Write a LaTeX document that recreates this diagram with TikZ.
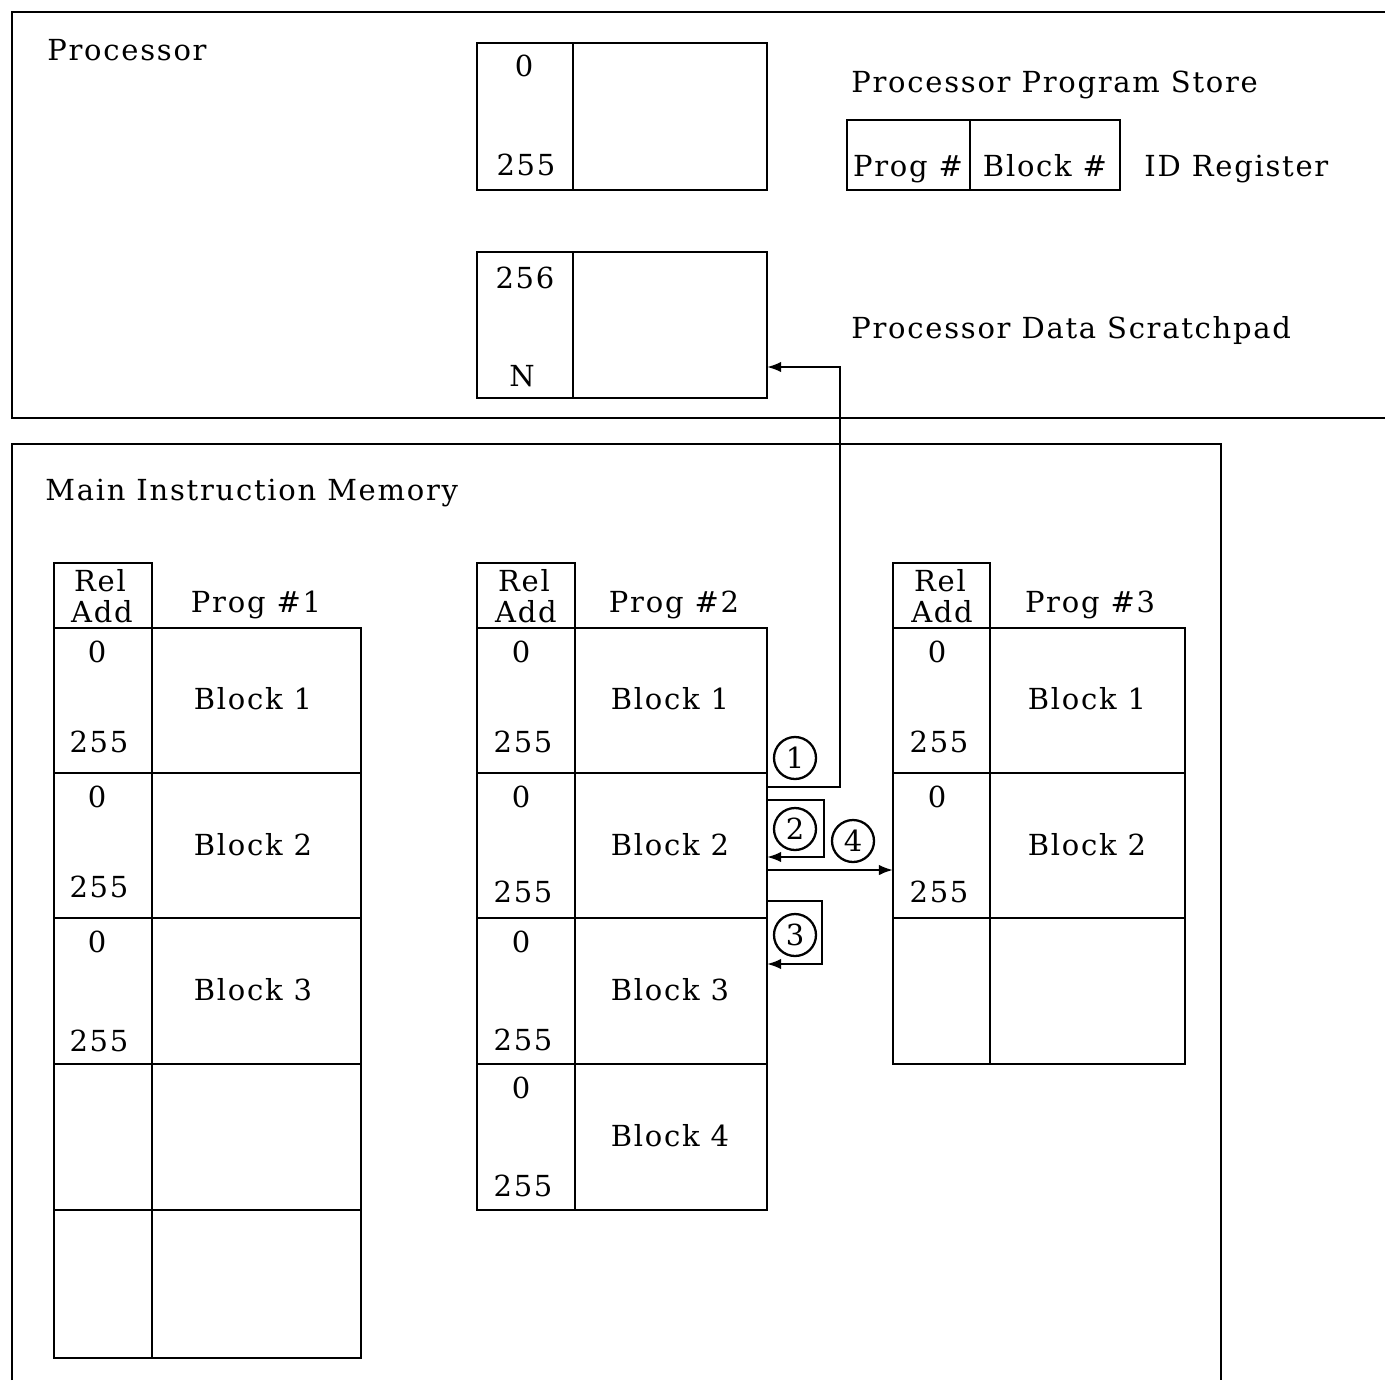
\documentclass[tikz,border=0pt]{standalone}
\usepackage{fontspec}
\setmainfont{DejaVu Serif}[LetterSpace=6]
\usetikzlibrary{arrows.meta}

\tikzset{
  lbl/.style={anchor=west,inner sep=0pt,text height=0.73em,text depth=0pt,yshift=-2.3pt},
  num/.style={inner sep=0pt,text height=0.73em,text depth=0pt,yshift=-2.3pt},
  stepno/.style={circle,draw,inner sep=0pt,minimum size=0.84cm,line width=1.3pt},
}

\begin{document}
\begin{tikzpicture}[x=0.02cm,y=-0.02cm,line width=1.6pt,
    font=\fontsize{16.5}{19}\selectfont,
    >={Latex[length=8pt,width=6pt]}]
  \useasboundingbox (0,0) rectangle (1385,1380);

  % processor
  \draw (1385,12) -- (12,12) -- (12,418) -- (1385,418);
  \node[lbl] (proc) at (46,50) {Processor};

  % program store
  \draw (477,43) rectangle (767,190);
  \draw (573,43) -- (573,190);
  \node[num] (ps0) at (524,66) {0};
  \node[num] (ps255) at (526,165) {255};
  \node[lbl] (pstore) at (850,82) {Processor Program Store};

  % id register
  \draw (847,120) rectangle (1120,190);
  \draw (970,120) -- (970,190);
  \node[num] (idprog) at (908,166) {Prog \#};
  \node[num] (idblk) at (1045,166) {Block \#};
  \node[lbl] (idreg) at (1143,166) {ID Register};

  % scratchpad
  \draw (477,252) rectangle (767,398);
  \draw (573,252) -- (573,398);
  \node[num] (sp256) at (525,278) {256};
  \node[num] (spn) at (522,376) {N};
  \node[lbl] (spad) at (850,328) {Processor Data Scratchpad};
  \coordinate (spin) at (767,367);

  % main memory
  \draw (12,1380) -- (12,444) -- (1221,444) -- (1221,1380);
  \node[lbl] (mem) at (44,490) {Main Instruction Memory};

  % prog 1
  \draw (54,563) rectangle (152,628);
  \node[num] (ra1) at (100,581) {Rel};
  \node[num] (ad1) at (102,612) {Add};
  \node[num] (pg1) at (256,602) {Prog \#1};
  \draw (54,628) rectangle (361,1358);
  \draw (152,628) -- (152,1358);
  \draw (54,773) -- (361,773);
  \draw (54,918) -- (361,918);
  \draw (54,1064) -- (361,1064);
  \draw (54,1210) -- (361,1210);
  \node[num] at (97,652) {0};
  \node[num] at (99,742) {255};
  \node[num] (p1b1) at (253,699) {Block 1};
  \node[num] at (97,797) {0};
  \node[num] at (99,887) {255};
  \node[num] (p1b2) at (253,845) {Block 2};
  \node[num] at (97,942) {0};
  \node[num] at (99,1041) {255};
  \node[num] (p1b3) at (253,990) {Block 3};

  % prog 2
  \draw (477,563) rectangle (575,628);
  \node[num] (ra2) at (524,581) {Rel};
  \node[num] (ad2) at (526,612) {Add};
  \node[num] (pg2) at (674,602) {Prog \#2};
  \draw (477,628) rectangle (767,1210);
  \draw (575,628) -- (575,1210);
  \draw (477,773) -- (767,773);
  \draw (477,918) -- (767,918);
  \draw (477,1064) -- (767,1064);
  \node[num] at (521,652) {0};
  \node[num] at (523,742) {255};
  \node[num] (p2b1) at (670,699) {Block 1};
  \node[num] at (521,797) {0};
  \node[num] at (523,892) {255};
  \node[num] (p2b2) at (670,845) {Block 2};
  \node[num] at (521,942) {0};
  \node[num] at (523,1040) {255};
  \node[num] (p2b3) at (670,990) {Block 3};
  \node[num] at (521,1088) {0};
  \node[num] at (523,1186) {255};
  \node[num] (p2b4) at (670,1136) {Block 4};

  % prog 3
  \draw (893,563) rectangle (990,628);
  \node[num] (ra3) at (940,581) {Rel};
  \node[num] (ad3) at (942,612) {Add};
  \node[num] (pg3) at (1090,602) {Prog \#3};
  \draw (893,628) rectangle (1185,1064);
  \draw (990,628) -- (990,1064);
  \draw (893,773) -- (1185,773);
  \draw (893,918) -- (1185,918);
  \node[num] at (937,652) {0};
  \node[num] at (939,742) {255};
  \node[num] (p3b1) at (1087,699) {Block 1};
  \node[num] at (937,797) {0};
  \node[num] at (939,892) {255};
  \node[num] (p3b2) at (1087,845) {Block 2};
  \coordinate (p3in) at (893,870);

  % transfers
  \coordinate (t1) at (767,787);
  \coordinate (t2a) at (767,800);
  \coordinate (t2b) at (767,857);
  \coordinate (t4) at (767,870);
  \coordinate (t3a) at (767,901);
  \coordinate (t3b) at (767,964);
  \draw[->,line width=1.3pt] (t1) -- (840,787) |- (spin);
  \draw[->,line width=1.3pt] (t2a) -- (824,800) |- (t2b);
  \draw[->,line width=1.3pt] (t4) -- (p3in);
  \draw[->,line width=1.3pt] (t3a) -- (822,901) |- (t3b);
  \node[stepno] (s1) at (795,758) {1};
  \node[stepno] (s2) at (795,829) {2};
  \node[stepno] (s4) at (853,841) {4};
  \node[stepno] (s3) at (795,935) {3};
\end{tikzpicture}
\end{document}
